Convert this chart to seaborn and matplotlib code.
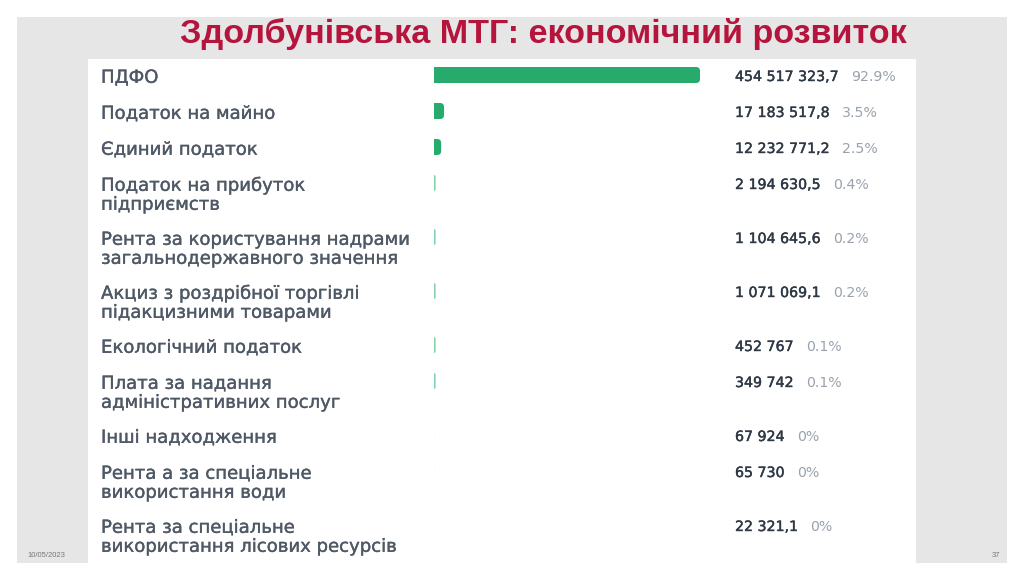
import matplotlib
matplotlib.use("Agg")
import matplotlib.pyplot as plt
import matplotlib.transforms as mtransforms
import matplotlib.patheffects as pe
from matplotlib.patches import FancyBboxPatch, Rectangle
import seaborn as sns
import pandas as pd

# дані зі слайду
title = "Здолбунівська МТГ: економічний розвиток"
categories = [
    "ПДФО",
    "Податок на майно",
    "Єдиний податок",
    "Податок на прибуток\nпідприємств",
    "Рента за користування надрами\nзагальнодержавного значення",
    "Акциз з роздрібної торгівлі\nпідакцизними товарами",
    "Екологічний податок",
    "Плата за надання\nадміністративних послуг",
    "Інші надходження",
    "Рента а за спеціальне\nвикористання води",
    "Рента за спеціальне\nвикористання лісових ресурсів",
]
amounts = [454517323.7, 17183517.8, 12232771.2, 2194630.5, 1104645.6,
           1071069.1, 452767, 349742, 67924, 65730, 22321.1]
shares = ["92.9%", "3.5%", "2.5%", "0.4%", "0.2%", "0.2%",
          "0.1%", "0.1%", "0%", "0%", "0%"]
date_text = "10/05/2023"
page_text = "37"

W, H = 1024, 581
GREEN = "#27ab6d"
LABEL_C = "#4f5965"
VALUE_C = "#2e3945"
SHARE_C = "#9aa3ad"


def fmt_amount(v):
    # пробіл як роздільник тисяч, кома для дробової частини
    s = f"{v:,.0f}" if float(v).is_integer() else f"{v:,.1f}"
    return s.replace(",", " ").replace(".", ",")


# позиції рядків: дворядкові підписи займають більше місця
positions = []
pos = 0.0
for lab in categories:
    positions.append(pos)
    pos += 1 + 0.5 * (lab.count("\n"))

df = pd.DataFrame({"category": categories, "amount": amounts, "pos": positions})

sns.set_style("white")
plt.rcParams["font.family"] = ["DejaVu Sans"]

fig = plt.figure(figsize=(W / 100, H / 100), dpi=100)
fig.patch.set_facecolor("white")

# сіре тло слайду та біла панель (під осями)
fig.add_artist(Rectangle((17 / W, 1 - 563 / H), (1007 - 17) / W, (563 - 17) / H,
                         transform=fig.transFigure, fc="#e6e6e6", ec="none", zorder=-2))
fig.add_artist(Rectangle((88 / W, 1 - 563 / H), (916 - 88) / W, (563 - 59) / H,
                         transform=fig.transFigure, fc="white", ec="none", zorder=-1))

ax = fig.add_axes([434 / W, 1 - 563 / H, (916 - 434) / W, (563 - 59) / H])
ax.set_facecolor("none")

row_px = 36.0
sns.barplot(data=df, x="amount", y="pos", orient="h", native_scale=True,
            width=16 / row_px, color=GREEN, saturation=1, errorbar=None, ax=ax)

xmax = amounts[0] * 482 / 266
ax.set_xlim(0, xmax)
ax.set_ylim((563 - 75) / row_px, (59 - 75) / row_px)
ax.axis("off")

# заокруглений правий край смуг; ненульова частка - щонайменше тонка риска
px_x = xmax / 482
px_y = 1 / row_px
for bar in list(ax.patches):
    x0, y0, w, h = bar.get_x(), bar.get_y(), bar.get_width(), bar.get_height()
    idx = min(range(len(positions)), key=lambda i: abs(positions[i] - (y0 + h / 2)))
    if shares[idx] != "0%":
        w = max(w, 1.6 * px_x)
    rr = min(4 * px_x, w)
    rounded = FancyBboxPatch((x0 - rr, y0), w + rr, h,
                             boxstyle=f"round,pad=0,rounding_size={rr}",
                             mutation_aspect=px_y / px_x,
                             fc=GREEN if w > 3 * px_x else "#86d2ae", ec="none")
    ax.add_patch(rounded)
    bar.remove()

blend = mtransforms.blended_transform_factory(fig.transFigure, ax.transData)
lab_fx = [pe.withStroke(linewidth=0.25, foreground=LABEL_C)]
val_fx = [pe.withStroke(linewidth=0.3, foreground=VALUE_C)]
for lab, amt, share, y in zip(categories, amounts, shares, positions):
    for k, line in enumerate(lab.split("\n")):
        ax.text(101 / W, y + (7.8 + 19 * k) / row_px, line, transform=blend,
                ha="left", va="baseline", fontsize=13, color=LABEL_C,
                path_effects=lab_fx)
    t = ax.text(735 / W, y + 6 / row_px, fmt_amount(amt), transform=blend,
                ha="left", va="baseline", fontsize=10.2, color=VALUE_C,
                path_effects=val_fx)
    ax.annotate(share, xy=(1, 0), xycoords=t, xytext=(13, 0),
                textcoords="offset pixels", ha="left", va="bottom",
                fontsize=10.2, color=SHARE_C)

fig.text(543 / W, 1 - 43 / H, title, ha="center", va="baseline",
         fontsize=24.6, fontweight="bold", family="Liberation Sans", color="#b5143c")
fig.text(27 / W, 1 - 557 / H, date_text, ha="left", va="baseline",
         fontsize=5.5, family="Liberation Sans", color="#777777")
fig.text(1000 / W, 1 - 557 / H, page_text, ha="right", va="baseline",
         fontsize=5.5, family="Liberation Sans", color="#777777")

fig.savefig("out.png", dpi=100, facecolor=fig.get_facecolor())
